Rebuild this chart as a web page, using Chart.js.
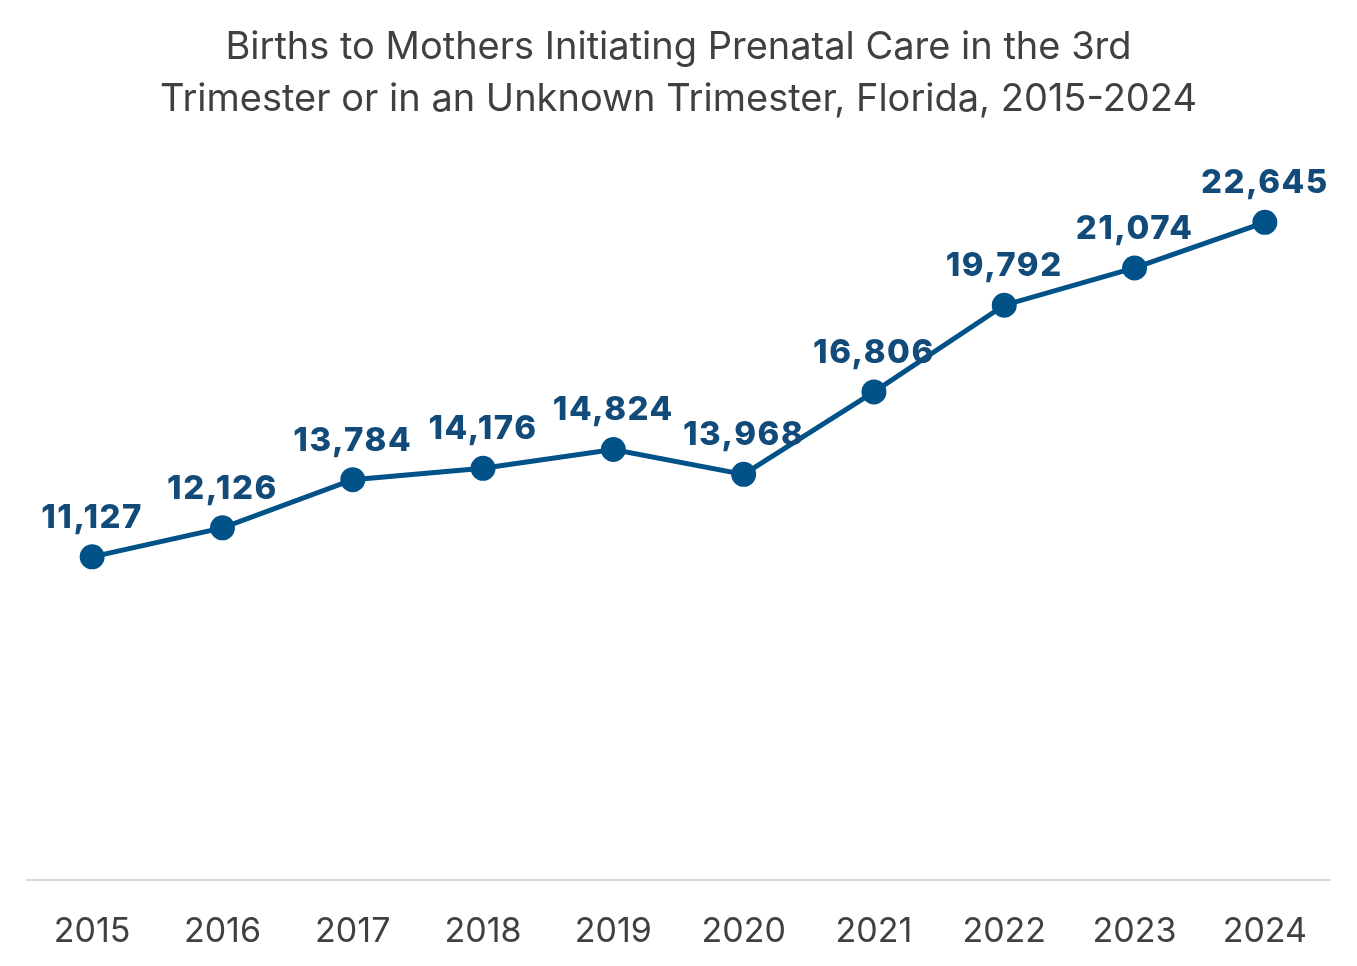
<!DOCTYPE html>
<html>
<head>
<meta charset="utf-8">
<script src="https://cdn.jsdelivr.net/npm/chart.js@4"></script>
<style>
  html, body { margin: 0; padding: 0; background: #fff; }
  #wrap { width: 1357px; height: 966px; }
</style>
</head>
<body>
<div id="wrap"><canvas id="myChart" width="1357" height="966"></canvas></div>
<script>
// datos
const years = ['2015', '2016', '2017', '2018', '2019', '2020', '2021', '2022', '2023', '2024'];
const births = [11127, 12126, 13784, 14176, 14824, 13968, 16806, 19792, 21074, 22645];
const titleLines = [
    'Births to Mothers Initiating Prenatal Care in the 3rd',
    'Trimester or in an Unknown Trimester, Florida, 2015-2024'
];

// etiquetas de valor encima de cada punto
const valueLabels = {
    id: 'valueLabels',
    afterDatasetsDraw(chart) {
        const ctx = chart.ctx;
        const meta = chart.getDatasetMeta(0);
        ctx.save();
        ctx.font = '800 33px Inter, "Open Sans", sans-serif';
        ctx.letterSpacing = '1.5px';
        ctx.fillStyle = '#124b7a';
        ctx.textAlign = 'center';
        ctx.textBaseline = 'middle';
        meta.data.forEach((pt, i) => {
            ctx.fillText(births[i].toLocaleString('en-US'), pt.x, pt.y - 39);
        });
        ctx.restore();
    }
};

var ctx = document.getElementById('myChart').getContext('2d');
var chart = new Chart(ctx, {
    type: 'line',
    data: {
        labels: years,
        datasets: [{
            label: 'Births',
            data: births,
            borderColor: '#005288',
            backgroundColor: '#005288',
            borderWidth: 5,
            pointRadius: 10,
            pointHoverRadius: 10,
            tension: 0
        }]
    },
    options: {
        responsive: false,
        animation: false,
        layout: { padding: { left: 27, right: 27, top: 0, bottom: 0 } },
        plugins: {
            legend: { display: false },
            tooltip: { enabled: false },
            title: {
                display: true,
                text: titleLines,
                color: '#404040',
                font: { size: 38, family: 'Inter, "Open Sans", sans-serif', weight: 'normal', lineHeight: 1.368 },
                padding: { top: 22, bottom: 28 }
            }
        },
        scales: {
            x: {
                offset: true,
                grid: { display: false, drawTicks: false },
                border: { display: true, color: '#d9d9d9', width: 2 },
                ticks: {
                    color: '#404040',
                    padding: 31,
                    font: { size: 34, family: 'Inter, "Open Sans", sans-serif' }
                },
                afterFit(scale) { scale.height = 86; }
            },
            y: {
                display: false,
                min: 0,
                max: 25000
            }
        }
    },
    plugins: [valueLabels]
});
</script>
</body>
</html>
